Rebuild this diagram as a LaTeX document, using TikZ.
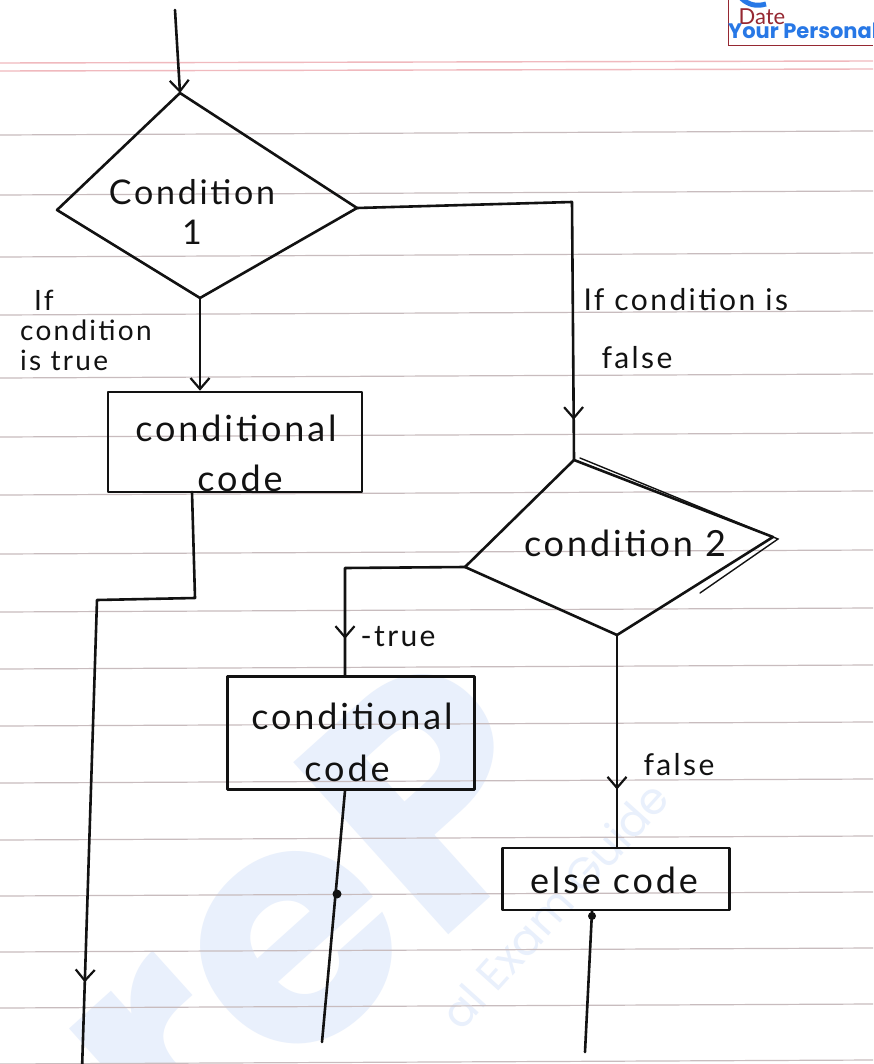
\documentclass[tikz,border=0pt]{standalone}
\usepackage{fontspec}
\setmainfont{Lato}
\newfontfamily\handfont[LetterSpace=8]{Lato}
\newfontfamily\brandfont{Poppins}
\usetikzlibrary{arrows.meta,decorations.markings}

\definecolor{inkc}{rgb}{0.07,0.07,0.07}
\definecolor{rulec}{RGB}{200,188,190}
\definecolor{pinkrule}{RGB}{240,185,190}
\definecolor{brandblue}{RGB}{40,120,230}
\definecolor{wmblue}{RGB}{233,240,252}
\definecolor{datered}{RGB}{150,40,50}

\tikzset{
  ink/.style={draw=inkc, line width=2.6pt, line join=round, line cap=round},
  codebox/.style={ink, rectangle, inner sep=0pt},
  hand/.style={text=inkc, font=\handfont\fontsize{36}{42}\selectfont, align=center},
  handsmall/.style={text=inkc, font=\handfont\fontsize{30}{30}\selectfont, align=left},
  barb/.tip={Straight Barb[length=11pt,width=19pt,line width=2.2pt]},
  midarrow/.style={postaction={decorate,decoration={markings,
      mark=at position #1 with {\arrow{barb}}}}},
  ruling/.style={draw=rulec, line width=1.2pt},
}

\begin{document}
\begin{tikzpicture}[x=1pt,y=-1pt]
\useasboundingbox (0,0) rectangle (873,1064);
\fill[white] (0,0) rectangle (873,1064);
\clip (0,0) rectangle (873,1064);

% faint watermark
\node[text=wmblue, font=\brandfont\bfseries\fontsize{330}{330}\selectfont,
      rotate=42] (wm) at (305,910) {reP};
\node[text=wmblue, font=\brandfont\fontsize{44}{44}\selectfont,
      rotate=48, anchor=south east, inner sep=0pt] (wmtext) at (672,800) {al Exam Guide};

% ruled notebook paper
\foreach \y in {133,193,255,313,376,435,493,552,610,667,724,781,838,894,950,1006,1062}
  \draw[ruling] (0,\y+2) -- (873,\y-2);
\draw[pinkrule, line width=1.4pt] (0,63) -- (873,61);
\draw[pinkrule, line width=1.4pt] (0,71) -- (873,69);

% page header corner
\draw[datered, line width=0.9pt] (728,0) -- (728,45) -- (873,45);
\node[text=datered, font=\fontsize{22}{22}\selectfont, anchor=west] (date) at (735,17) {Date};
\draw[brandblue, line width=5pt] (741,-2) to[bend right=30] (766,4);
\node[text=brandblue, font=\brandfont\bfseries\fontsize{21}{21}\selectfont, anchor=west,
      inner sep=0pt] (brand) at (728,31) {Your Personal};

% ---- first decision ----
\coordinate (start) at (175,10);
\coordinate (d1t) at (180,93);
\coordinate (d1l) at (57,210);
\coordinate (d1r) at (357,208);
\coordinate (d1b) at (200,298);
\draw[ink] (d1t) -- (d1r) -- (d1b) -- (d1l) -- cycle;
\node[hand, font=\handfont\fontsize{34}{40}\selectfont] (c1) at (192,212) {Condition\\1};
\draw[ink, -{barb}] (start) -- (d1t);

% true branch of condition 1
\node[codebox, minimum width=254pt, minimum height=100pt] (b1) at (235,442) {};
\node[hand] (b1a) at (236,428) {conditional};
\node[hand] (b1b) at (240,478) {code};
\draw[ink, -{barb}] (d1b) -- (d1b |- b1.north);
\node[handsmall, align=left, anchor=north west, inner sep=0pt,
      font=\handfont\fontsize{28}{30}\selectfont] (lt) at (20,290)
      {\hspace*{14pt}If\\condition\\is true};

% merge line on the left
\coordinate (j0) at (192,492);
\coordinate (j1) at (195,598);
\coordinate (j2) at (97,600);
\coordinate (out1) at (82,1070);
\draw[ink, midarrow=0.87] (j0) -- (j1) -- (j2) -- (out1);

% false branch of condition 1
\coordinate (k1) at (572,202);
\coordinate (d2t) at (574,460);
\draw[ink, midarrow=0.915] (d1r) -- (k1) -- (d2t);
\node[handsmall, anchor=west] (lf1) at (580,300) {If condition is};
\node[handsmall, anchor=west] (lf2) at (598,358) {false};

% ---- second decision ----
\coordinate (d2l) at (465,567);
\coordinate (d2r) at (773,537);
\coordinate (d2b) at (617,635);
\draw[ink] (d2t) -- (d2r) -- (d2b) -- (d2l) -- cycle;
\draw[inkc, line width=1.4pt, line cap=round] (580,458) -- (778,539) -- (700,593);
\node[hand] (c2) at (625,543) {condition 2};

% true branch of condition 2
\node[codebox, minimum width=247pt, minimum height=113pt] (b2) at (351,733) {};
\node[hand] (b2a) at (352,716) {conditional};
\node[hand] (b2b) at (347,768) {code};
\coordinate (m1) at (345,568);
\draw[ink, midarrow=0.84] (d2l) -- (m1) -- (m1 |- b2.north);
\node[handsmall, anchor=west] (lt2) at (357,637) {-true};
\coordinate (out2) at (322,1042);
\draw[ink] (b2.south -| m1) -- (out2);
\fill[inkc] (337,894) circle (4.5pt);

% false branch of condition 2
\node[codebox, minimum width=227pt, minimum height=62pt] (eb) at (616,879) {};
\node[hand] (ebt) at (614,880) {else code};
\draw[ink, midarrow=0.73] (d2b) -- (d2b |- eb.north);
\node[handsmall, anchor=west] (lf3) at (640,765) {false};
\coordinate (out3) at (585,1052);
\draw[ink] (eb.south -| 592,0) -- (out3);
\fill[inkc] (592,916) circle (4pt);
\end{tikzpicture}
\end{document}
